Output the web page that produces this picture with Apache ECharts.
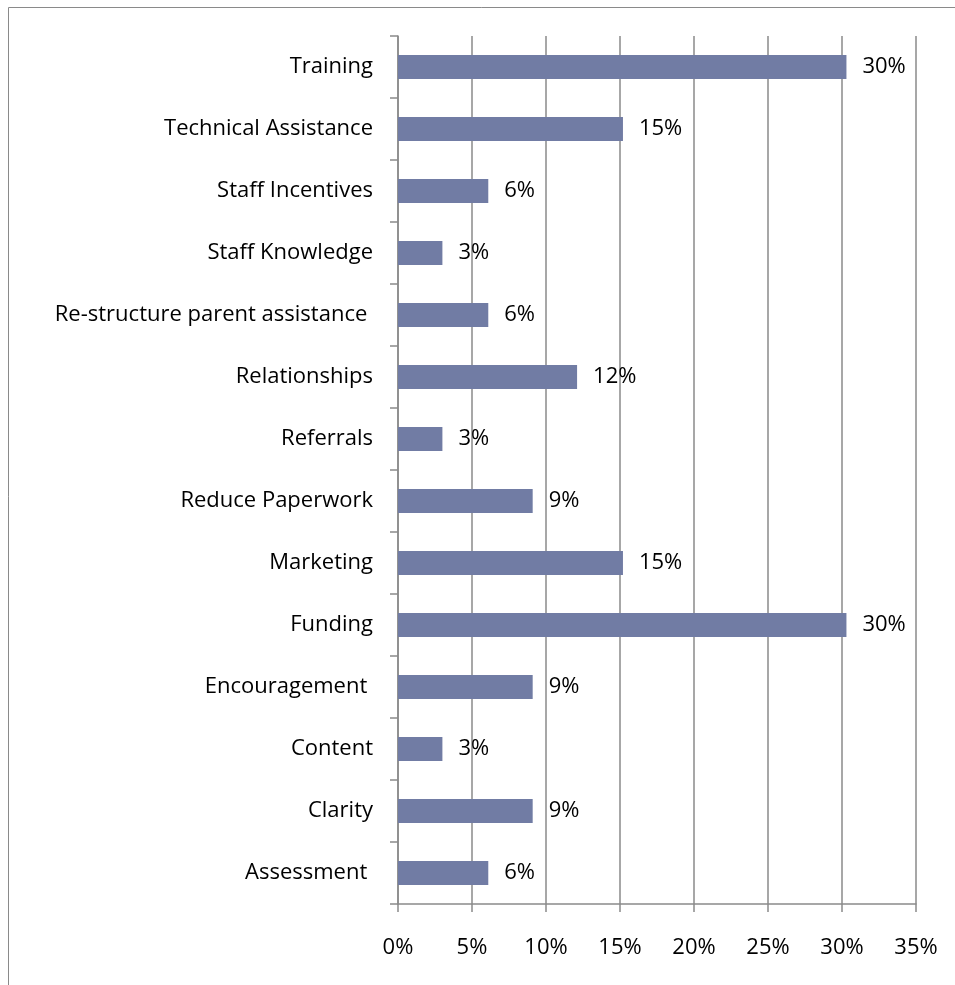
<!DOCTYPE html>
<html>
<head>
<meta charset="utf-8">
<script src="https://cdn.jsdelivr.net/npm/echarts@6/dist/echarts.min.js"></script>
<style>
  html, body { margin: 0; padding: 0; background: #ffffff; }
  #chart { width: 955px; height: 985px; }
</style>
</head>
<body>
<div id="chart"></div>
<script>
// Categories listed top to bottom (axis is inverted)
const categories = [
  'Training',
  'Technical Assistance',
  'Staff Incentives',
  'Staff Knowledge',
  'Re-structure parent assistance ',
  'Relationships',
  'Referrals',
  'Reduce Paperwork',
  'Marketing',
  'Funding',
  'Encouragement ',
  'Content',
  'Clarity',
  'Assessment '
];

// Share of responses, in percent
const shares = [30.3, 15.2, 6.1, 3.0, 6.1, 12.1, 3.0, 9.1, 15.2, 30.3, 9.1, 3.0, 9.1, 6.1];

// Value axis ticks
const axisMin = 0;
const axisMax = 35;
const axisStep = 5;

const FONT = 'Open Sans';
const FONT_SIZE = 22;
const GRID = '#8a8a8a';

const chart = echarts.init(document.getElementById('chart'), null, { renderer: 'canvas' });

chart.setOption({
  animation: false,
  backgroundColor: '#ffffff',
  graphic: [
    // outer frame (top and left edges)
    { type: 'line', shape: { x1: 8.5, y1: 7.5, x2: 955, y2: 7.5 }, style: { stroke: GRID, lineWidth: 1 } },
    { type: 'line', shape: { x1: 8.5, y1: 7.5, x2: 8.5, y2: 985 }, style: { stroke: GRID, lineWidth: 1 } }
  ],
  grid: { left: 398, right: 39, top: 36, bottom: 81, containLabel: false },
  xAxis: {
    type: 'value',
    min: axisMin,
    max: axisMax,
    interval: axisStep,
    axisLine: { show: true, lineStyle: { color: GRID, width: 1.5 } },
    axisTick: { show: true, length: 8, inside: false, lineStyle: { color: GRID, width: 1.5 } },
    splitLine: { show: true, lineStyle: { color: GRID, width: 1.5 } },
    axisLabel: {
      formatter: v => v + '%',
      color: '#000000',
      fontFamily: FONT,
      fontSize: FONT_SIZE,
      margin: 33
    }
  },
  yAxis: {
    type: 'category',
    data: categories,
    inverse: true,
    axisLine: { show: true, lineStyle: { color: GRID, width: 1.5 } },
    axisTick: { show: true, length: 8, alignWithLabel: false, lineStyle: { color: GRID, width: 1.5 } },
    splitLine: { show: false },
    axisLabel: {
      color: '#000000',
      fontFamily: FONT,
      fontSize: FONT_SIZE,
      margin: 25
    }
  },
  series: [{
    type: 'bar',
    data: shares,
    barWidth: 24,
    itemStyle: { color: '#717ca4' },
    label: {
      show: true,
      position: 'right',
      distance: 16,
      formatter: p => Math.round(p.value) + '%',
      color: '#000000',
      fontFamily: FONT,
      fontSize: FONT_SIZE
    }
  }]
});
</script>
</body>
</html>
